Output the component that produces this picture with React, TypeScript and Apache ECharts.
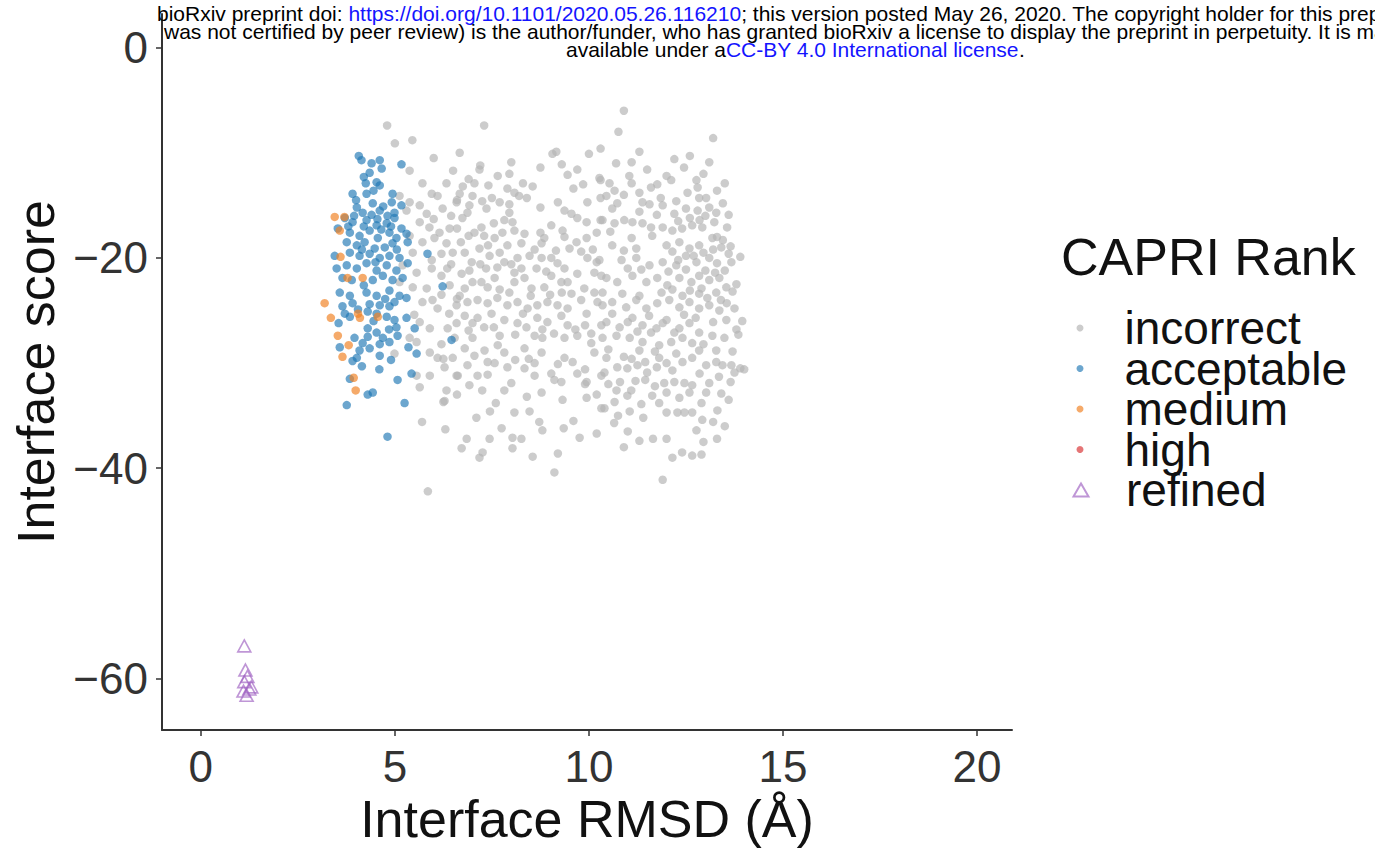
import React, { useEffect, useRef } from "react";
import * as echarts from "echarts";

const FONT = "'Liberation Sans', Arial, Helvetica, sans-serif";

const xTicks = [0, 5, 10, 15, 20];
const yTicks = [-60, -40, -20, 0];

const incorrectPts: number[][] = [
  [10.9,-6.0],[10.76,-8.0],[13.2,-8.6],[4.8,-7.4],[7.3,-7.4],[5.0,-9.1],[5.45,-8.8],[6.0,-10.5],[6.67,-10.0],[9.06,-10.1],[9.16,-9.9],[8.75,-11.4],[10.0,-10.1],[9.45,-12.1],[9.7,-11.6],[7.2,-11.2],[7.18,-11.6],[7.65,-12.2],[6.5,-11.7],[10.7,-11.0],[11.1,-10.9],[9.6,-13.4],[13.5,-12.9],[13.9,-19.9],[13.9,-30.5],[10.3,-12.6],[7.05,-12.9],[7.41,-13.1],[7.9,-13.4],[8.08,-13.8],[6.67,-13.9],[6.6,-14.5],[7.0,-14.1],[7.5,-14.3],[7.7,-14.7],[8.2,-14.1],[8.4,-14.3],[8.75,-15.2],[9.2,-14.7],[9.96,-14.7],[10.3,-14.3],[6.92,-15.0],[6.87,-15.7],[6.74,-16.2],[7.36,-15.3],[7.95,-15.7],[8.03,-16.6],[7.82,-16.4],[9.37,-15.5],[9.55,-15.8],[9.7,-16.2],[9.94,-16.6],[10.3,-16.4],[6.6,-17.2],[6.7,-18.5],[7.05,-17.6],[7.23,-17.1],[7.3,-17.9],[7.57,-18.1],[7.4,-18.8],[7.18,-19.1],[7.77,-17.6],[8.08,-17.4],[8.34,-17.7],[8.26,-18.6],[8.75,-17.6],[8.85,-18.1],[8.78,-18.6],[9.03,-16.9],[9.32,-17.4],[9.37,-18.0],[9.68,-18.5],[9.94,-18.1],[10.2,-17.6],[9.5,-19.1],[6.8,-19.5],[7.7,-19.5],[7.44,-19.8],[8.16,-20.0],[8.47,-19.8],[8.78,-20.0],[9.03,-20.0],[9.19,-20.5],[9.37,-21.0],[9.96,-20.0],[10.2,-20.4],[6.98,-20.4],[6.92,-21.2],[6.72,-21.5],[7.64,-20.9],[7.82,-20.4],[7.57,-21.9],[8.08,-21.4],[8.26,-21.0],[8.34,-21.9],[8.65,-21.0],[9.03,-21.7],[9.29,-22.3],[9.45,-22.3],[10.14,-21.4],[10.32,-21.7],[7.23,-22.3],[7.39,-22.8],[8.08,-22.3],[8.52,-22.9],[8.85,-22.8],[9.88,-22.9],[10.14,-23.3],[6.8,-22.9],[6.67,-23.6],
  [6.6,-23.9],[6.87,-24.2],[7.13,-24.0],[7.39,-24.3],[7.64,-23.8],[7.9,-24.5],[8.16,-24.2],[8.42,-24.8],[8.67,-24.5],[8.93,-24.2],[9.19,-24.5],[9.45,-24.8],[9.8,-24.0],[10.22,-24.2],
  [6.8,-25.5],[7.13,-25.7],[7.49,-25.3],[7.82,-25.9],[8.16,-26.2],[8.39,-26.6],[8.67,-25.7],[8.93,-26.1],[9.29,-25.5],[9.45,-26.4],[9.94,-25.3],[10.32,-26.4],
  [6.54,-27.6],[7.0,-27.6],[7.7,-27.4],[8.6,-27.4],[8.8,-27.6],[9.37,-27.6],[9.7,-27.4],[10.06,-27.2],[10.06,-28.1],
  [6.8,-28.6],[7.31,-28.8],[7.82,-29.0],[8.34,-28.6],[8.78,-29.0],[9.37,-29.5],[9.58,-29.9],[10.14,-29.0],
  [6.87,-30.2],[7.39,-29.9],[7.57,-30.0],[7.9,-30.4],[8.34,-30.5],[8.6,-31.2],[9.03,-31.0],[9.11,-31.6],
  [6.62,-31.2],[7.13,-31.2],[7.39,-31.1],[8.0,-31.9],[7.82,-32.6],[8.78,-32.8],[9.29,-31.8],[9.94,-31.8],[10.32,-31.2],
  [6.92,-32.1],[9.32,-33.5],[9.94,-33.3],[10.32,-34.3],[8.08,-34.7],[8.47,-34.6],[8.72,-35.6],
  [6.85,-37.2],[6.72,-38.1],[7.44,-37.2],[8.03,-37.1],[8.26,-37.2],[8.03,-38.1],[7.26,-38.5],[7.18,-39.0],[9.76,-37.1],[9.11,-40.4],
  [5.7,-35.6],[6.25,-33.7],[5.85,-42.2],[9.9,-32.0],
  [11.9,-41.1],[10.9,-38.0],[11.3,-37.4],[11.65,-37.2],[12.0,-37.2],[12.15,-39.0],[12.4,-38.5],[12.66,-38.8],[12.9,-38.7],[13.3,-37.2],[12.95,-37.5],[10.65,-35.7],[13.2,-35.6],
  [10.27,-12.4],[10.53,-12.9],[10.66,-13.6],[11.04,-12.2],[11.1,-12.9],[11.6,-13.3],[11.76,-13.0],[12.0,-12.2],[12.12,-12.6],[12.77,-12.6],[12.8,-13.3],[12.54,-13.8],[10.45,-14.1],[10.73,-14.8],[11.38,-14.7],[11.56,-14.9],[12.84,-14.3],[13.02,-14.3],[12.8,-15.5],[13.1,-15.2],[13.28,-15.7],
  [10.35,-16.4],[10.66,-16.7],[10.91,-16.4],[11.12,-16.6],[11.38,-16.7],[11.6,-17.1],[11.9,-17.1],[12.15,-17.4],[12.4,-17.2],[12.66,-16.9],[12.92,-17.1],[13.23,-16.6],[13.56,-17.1],
  [10.6,-18.8],[11.1,-18.1],[11.22,-19.1],[11.63,-17.9],[12.0,-18.8],[12.33,-18.5],[12.59,-19.1],[12.84,-18.8],[13.18,-18.1],[13.41,-19.0],
  [10.27,-20.2],[10.84,-20.2],[11.22,-20.0],[11.56,-20.7],[11.9,-20.4],[12.25,-20.7],[12.5,-19.8],[12.77,-20.4],[13.1,-20.0],[13.3,-20.5],[13.67,-20.4],
  [10.45,-21.9],[10.73,-22.3],[11.12,-21.7],[11.48,-22.3],[11.76,-21.9],[12.02,-22.6],[12.33,-21.9],[12.64,-22.3],[12.84,-21.7],[13.1,-22.1],[13.36,-21.9],[13.54,-22.8],
  [10.35,-23.3],[10.86,-23.4],[11.3,-23.6],[11.87,-23.3],[12.41,-23.6],[12.84,-23.4],[13.28,-23.3],
  [10.35,-24.5],[10.6,-24.2],[10.96,-24.7],[11.22,-24.0],[11.48,-24.8],[11.76,-24.3],[12.07,-24.0],[12.33,-24.7],[12.59,-24.2],[12.84,-24.8],[13.1,-24.5],[13.36,-25.0],[13.54,-25.9],
  [10.45,-26.1],[10.79,-26.6],[11.12,-25.7],[11.38,-26.4],[11.74,-26.7],[12.0,-25.9],[12.33,-26.7],[12.59,-26.2],[12.84,-27.1],[13.18,-27.4],[13.49,-27.6],
  [10.35,-27.6],[10.71,-27.4],[11.38,-28.0],[11.81,-28.3],[12.12,-28.0],[12.41,-27.6],[12.66,-28.1],[12.84,-28.8],[13.28,-28.8],
  [10.45,-29.5],[11.3,-28.8],[11.81,-29.5],[12.0,-30.0],[12.25,-29.1],[12.41,-29.9],[12.66,-29.5],[13.02,-30.2],[13.28,-29.9],[13.44,-30.2],[13.67,-30.2],
  [10.4,-30.9],[10.73,-30.4],[10.99,-30.5],[11.5,-30.9],[11.94,-31.9],[12.2,-31.8],[12.46,-31.9],[12.66,-32.1],[13.1,-31.9],
  [10.71,-32.6],[11.09,-32.6],[10.99,-33.1],[10.66,-33.7],[11.63,-33.1],[12.33,-33.3],[12.59,-32.8],[13.02,-32.8],[13.41,-32.9],
  [10.4,-34.3],[11.81,-33.8],[12.0,-34.7],[12.28,-34.7],[12.46,-34.7],[12.66,-34.7],[13.31,-34.5],
  [12.92,-35.4],[12.77,-36.4],[13.7,-28.9],[13.6,-33.5],[13.5,-36.0],
  [5.38,-11.7],[5.71,-12.9],[6.33,-12.9],[5.95,-13.9],[6.1,-14.1],[5.12,-14.1],[5.38,-14.7],[5.64,-15.0],[5.3,-15.5],[5.82,-15.8],[6.23,-15.3],[6.59,-14.7],[5.64,-16.6],[5.89,-17.1],[6.15,-17.6],[6.41,-17.2],[5.38,-17.9],[5.71,-18.5],[6.02,-18.1],[6.33,-18.6],[5.46,-19.5],[5.95,-20.2],[6.2,-19.6],[6.49,-19.5],[5.2,-20.7],[5.56,-21.4],[5.95,-21.0],[6.2,-21.7],[5.12,-22.3],[5.46,-22.8],[5.82,-22.9],[6.41,-22.6],
  [5.71,-24.2],[5.97,-24.0],[6.1,-24.8],[6.59,-24.5],[5.64,-26.1],[5.9,-26.7],[5.38,-27.6],[5.56,-28.0],[6.36,-26.7],[6.59,-26.2],[4.99,-29.1],[5.9,-29.0],[6.1,-29.5],[6.49,-29.5],[5.56,-31.2],[5.9,-31.2],[6.28,-30.4],[6.59,-31.2],[5.64,-32.3],[6.33,-32.6],[6.28,-33.6],
  [12.2,-15.8],[12.5,-15.3],[11.9,-15.0],[12.6,-16.2],[13.0,-16.0],[13.3,-18.0],[12.95,-19.5],[12.15,-19.4],[13.5,-21.2],[12.5,-21.1],[12.15,-23.0],[12.6,-23.1],[13.05,-23.8],[13.4,-24.0],[12.45,-25.4],[12.75,-25.7],[13.2,-26.1],[12.2,-27.1],[12.95,-28.2],[12.15,-30.7],[12.85,-31.0],[13.35,-31.3],[11.7,-32.2],[12.9,-33.8],[11.4,-35.2],[11.2,-31.7],[10.9,-29.4],[11.6,-27.1],[11.05,-27.6],[10.6,-25.3],[11.0,-21.0],[11.35,-21.1],[10.9,-19.3],[10.55,-17.5],[9.7,-21.5],[9.3,-23.3],[9.65,-26.8],[10.5,-28.7],[9.9,-30.6],[8.4,-33.2],[7.6,-33.8],[7.1,-35.2],[9.6,-35.5],[11.0,-36.5],[7.75,-36.2],[9.2,-38.6],[8.55,-38.9],[6.3,-36.3],[6.2,-28.2],[6.9,-26.9],[7.3,-26.6],[7.7,-23.0],[8.5,-23.6],[6.35,-21.0],[7.2,-20.6],[6.2,-23.5],[5.5,-25.4],[6.0,-16.3],[6.9,-12.5],[8.3,-12.9],[8.0,-10.9],[9.3,-11.1],[11.5,-11.6],[12.45,-11.4],[11.3,-9.9],[12.2,-10.6],[13.1,-10.9],
  [12.3,-16.5],[12.85,-16.4],[13.45,-18.3],[13.65,-18.9],[13.2,-19.2],[12.7,-19.8],[13.6,-19.6],[12.3,-20.2],[13.0,-21.2],[13.25,-21.4],[12.05,-21.3],[12.9,-22.9],[13.7,-23.2],[13.55,-24.3],
  [13.8,-22.5],[13.75,-24.8],[13.95,-26.0],[13.85,-27.3],[13.75,-30.9],[14.0,-30.6],[13.65,-31.8],[13.8,-26.8],
  [11.0,-26.1],[11.25,-27.0],[11.55,-25.5],[11.9,-26.2],[11.7,-28.9],[11.1,-29.6],[11.45,-29.9],[11.75,-30.4],[11.25,-30.2],[10.8,-31.8],[11.45,-31.6],[12.0,-32.8],[11.35,-33.9],[11.05,-34.6],[10.75,-35.0],
  [8.6,-19.2],[9.15,-19.3],[9.8,-19.4],[8.9,-21.3],[9.55,-23.4],[9.0,-23.5],[8.3,-25.3],[8.8,-26.8],[9.1,-27.2],[9.9,-26.4],[8.45,-29.6],[9.2,-30.1],[9.7,-31.0],[8.6,-30.0],
  [6.75,-13.2],[7.25,-14.6],[7.95,-14.9],[6.45,-16.0],[7.55,-16.7],[6.9,-17.9],[7.9,-18.8],[6.45,-20.6],[7.35,-21.0],[8.0,-20.6],[7.0,-22.3],[7.95,-23.3],[6.4,-25.3],[7.0,-26.2],[7.55,-26.6],[8.1,-27.3],[6.25,-29.6],[7.05,-29.3],[7.65,-28.3],[8.1,-29.7],[7.25,-32.6],[6.6,-33.0],[7.45,-34.6],[8.8,-36.4],[9.35,-36.2],[10.2,-36.7],[10.2,-33.0],[10.5,-32.0],[10.1,-19.2],[10.6,-15.3],[11.3,-15.6],[11.75,-15.9],[11.85,-14.3],[12.25,-14.6],[13.45,-14.8],[13.6,-15.9],[12.6,-10.3],[12.95,-12.0],[13.3,-13.6],[10.3,-9.6],[7.95,-12.0],[8.55,-13.2],[9.85,-13.0],[10.9,-14.0],[11.3,-13.8]
];

const acceptablePts: number[][] = [
  [4.07,-10.3],[4.14,-10.7],[4.4,-11.0],[4.61,-10.7],[4.35,-11.9],[4.66,-11.5],[5.17,-11.1],[4.53,-12.8],[4.61,-13.1],
  [3.91,-13.9],[4.27,-13.9],[4.43,-14.8],[4.94,-13.9],[4.92,-14.7],
  [4.02,-15.2],[4.17,-15.7],[4.61,-15.5],[4.81,-16.0],[4.99,-15.7],[5.17,-15.0],
  [3.71,-16.2],[3.91,-16.6],[4.27,-16.4],[4.53,-16.9],[4.79,-16.7],[4.99,-16.2],[5.17,-17.2],
  [3.53,-17.2],[3.84,-17.6],[4.09,-17.9],[4.35,-17.4],[4.56,-18.1],[4.86,-17.6],[5.04,-18.1],
  [3.76,-18.5],[4.02,-18.8],[4.22,-18.5],[4.48,-19.1],[4.74,-19.0],[4.94,-18.6],[5.3,-17.7],[5.33,-18.5],
  [3.84,-19.5],[4.09,-19.8],[4.35,-19.6],[4.61,-20.0],[4.86,-19.8],[5.12,-20.0],[5.84,-19.6],
  [3.5,-21.0],[3.76,-20.7],[4.02,-21.0],[4.27,-20.5],[4.53,-21.2],[4.79,-20.7],[5.04,-21.2],[5.33,-20.5],
  [3.65,-21.9],[3.89,-22.1],[4.43,-22.1],[4.69,-21.7],[4.94,-22.1],[5.2,-21.9],
  [3.58,-23.3],[3.84,-23.6],[4.27,-23.3],[4.53,-23.6],[4.86,-23.1],[5.12,-23.6],[6.23,-22.7],
  [3.65,-24.6],[3.91,-24.3],[4.35,-24.4],[4.61,-24.5],[4.86,-24.6],[4.99,-24.2],[5.3,-23.8],
  [3.71,-25.3],[3.84,-25.6],[4.3,-25.1],[4.53,-25.3],[4.79,-25.6],[4.99,-25.9],[5.3,-25.7],[5.51,-26.7],[3.55,-26.2],
  [4.3,-26.7],[4.53,-27.1],[4.3,-27.5],[4.69,-27.6],[5.04,-26.6],[5.07,-27.4],[4.86,-28.0],
  [3.96,-27.6],[4.17,-28.1],[4.09,-28.8],[4.02,-29.5],[3.91,-29.8],[3.58,-28.5],[4.61,-28.2],[4.61,-29.3],[5.56,-29.1],
  [5.07,-31.6],[5.43,-31.0],[6.46,-27.8],[3.84,-31.5],[4.3,-33.0],[4.43,-32.8],[3.76,-34.0],[5.25,-33.8],[4.81,-37.0],
  [3.45,-19.8],[4.2,-12.3],[4.45,-13.6],[4.0,-14.5],[4.7,-15.1],[4.4,-15.9],[3.8,-17.0],[4.2,-17.0],[4.65,-17.3],[5.05,-19.2],
  [4.25,-12.9],[3.95,-16.0],[4.55,-16.3],[4.9,-17.0],[4.15,-19.2],[4.5,-20.4],[4.2,-22.6],[4.75,-23.9],[4.05,-24.9],[4.45,-26.0],[4.85,-26.8],[4.35,-28.6],[4.9,-29.7],[4.6,-30.6],[4.15,-30.3],[5.35,-28.5]
];

const mediumPts: number[][] = [
  [3.45,-16.1],[3.7,-16.1],[3.58,-17.4],[3.6,-19.9],[3.78,-21.9],[4.17,-21.9],[3.19,-24.3],[3.35,-25.7],[4.1,-25.7],[4.56,-25.6],[3.53,-27.4],[3.81,-28.3],[3.65,-29.4],[3.94,-31.4],[3.99,-32.6],[4.05,-25.3]
];

const highPts: number[][] = [];

const refinedPts: number[][] = [
  [1.12,-56.9],[1.15,-59.2],[1.2,-59.8],[1.12,-60.3],[1.3,-60.8],[1.1,-61.2],[1.18,-61.6],[1.25,-61.0]
];

const rankNames = ["incorrect", "acceptable", "medium", "high", "refined"];

const headerLine1 = "{k|bioRxiv preprint doi: }{u|https://doi.org/10.1101/2020.05.26.116210}{k|; this version posted May 26, 2020. The copyright holder for this preprint}";
const headerLine2 = "was not certified by peer review) is the author/funder, who has granted bioRxiv a license to display the preprint in perpetuity. It is made";
const headerLine3 = "{k|available under a}{u|CC-BY 4.0 International license}{k|.}";

export default function App() {
  const ref = useRef<HTMLDivElement>(null);
  useEffect(() => {
    document.body.style.margin = "0";
    if (!ref.current) return;
    const chart = echarts.init(ref.current, null, { renderer: "svg" });
    const axisCommon = {
      type: "value",
      splitLine: { show: false },
      axisLine: { show: true, onZero: false, lineStyle: { color: "#333", width: 2 } },
    };
    const legendText = { fontSize: 46, lineHeight: 40.5, color: "#111", fontFamily: FONT };
    const legends = rankNames.map((nm, i) => {
      const isTri = nm === "refined";
      return {
        data: [nm],
        orient: "vertical",
        left: isTri ? 1067.5 : 1071.5,
        top: 300 + i * 40.5,
        itemWidth: isTri ? 15 : 7,
        itemHeight: isTri ? 13 : 7,
        itemGap: 0,
        selectedMode: false,
        textStyle: { ...legendText, padding: [0, 0, 0, isTri ? 32.5 : 36] },
      };
    });
    const rich = {
      k: { fill: "#000", fontSize: 21, fontFamily: FONT },
      u: { fill: "#1414ff", fontSize: 21, fontFamily: FONT },
    };
    const option: any = {
      animation: false,
      backgroundColor: "#fff",
      textStyle: { fontFamily: FONT },
      grid: { left: 162, right: 363, top: 14, bottom: 121, containLabel: false },
      xAxis: {
        ...axisCommon,
        min: -1.0,
        max: 20.9,
        axisTick: { show: true, length: 6, lineStyle: { color: "#333", width: 1.5 }, customValues: xTicks },
        axisLabel: { customValues: xTicks, fontSize: 44, color: "#333", margin: 14, fontFamily: FONT },
        name: "Interface RMSD (Å)",
        nameLocation: "middle",
        nameGap: 62,
        nameTextStyle: { fontSize: 52, color: "#111", fontFamily: FONT },
      },
      yAxis: {
        ...axisCommon,
        min: -64.9,
        max: 3.2,
        axisTick: { show: true, length: 6, lineStyle: { color: "#333", width: 1.5 }, customValues: yTicks },
        axisLabel: {
          customValues: yTicks,
          fontSize: 44,
          color: "#333",
          margin: 14,
          fontFamily: FONT,
          formatter: (v: number) => (v < 0 ? "\u2212" + Math.abs(v) : String(v)),
        },
        name: "Interface score",
        nameLocation: "middle",
        nameGap: 100,
        nameTextStyle: { fontSize: 52, color: "#111", fontFamily: FONT },
      },
      title: {
        text: "CAPRI Rank",
        left: 1056,
        top: 226,
        textStyle: { fontSize: 52, fontWeight: "normal", color: "#111", fontFamily: FONT },
      },
      legend: legends,
      graphic: [
        {
          type: "text",
          left: 157,
          top: 3,
          z: 100,
          style: { text: headerLine1, fontSize: 21, fontFamily: FONT, fill: "#000", rich },
        },
        {
          type: "text",
          left: 164,
          top: 21,
          z: 100,
          style: { text: headerLine2, fontSize: 21, fontFamily: FONT, fill: "#000" },
        },
        {
          type: "text",
          left: 566,
          top: 39,
          z: 100,
          style: { text: headerLine3, fontSize: 21, fontFamily: FONT, fill: "#000", rich },
        },
      ],
      series: [
        { name: "incorrect", type: "scatter", data: incorrectPts, symbol: "circle", symbolSize: 8.5, itemStyle: { color: "rgba(180,180,180,0.85)" } },
        { name: "acceptable", type: "scatter", data: acceptablePts, symbol: "circle", symbolSize: 8.5, itemStyle: { color: "rgba(31,119,180,0.82)" } },
        { name: "medium", type: "scatter", data: mediumPts, symbol: "circle", symbolSize: 8.5, itemStyle: { color: "rgba(240,130,35,0.85)" } },
        { name: "high", type: "scatter", data: highPts, symbol: "circle", symbolSize: 8.5, itemStyle: { color: "rgba(214,39,40,0.8)" } },
        {
          name: "refined",
          type: "scatter",
          data: refinedPts,
          symbol: "triangle",
          symbolSize: [13, 12],
          itemStyle: { color: "rgba(255,255,255,0)", borderColor: "rgba(160,100,195,0.85)", borderWidth: 1.6 },
        },
      ],
    };
    chart.setOption(option);
    return () => chart.dispose();
  }, []);
  return <div ref={ref} style={{ width: 1375, height: 851 }} />;
}
